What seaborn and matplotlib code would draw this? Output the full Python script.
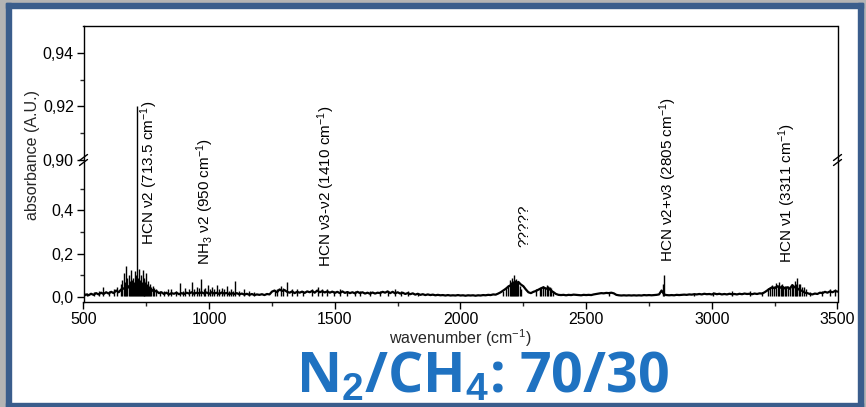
import numpy as np
import pandas as pd
import matplotlib
matplotlib.use("Agg")
import matplotlib.pyplot as plt
import seaborn as sns
from matplotlib.patches import Rectangle
from matplotlib.lines import Line2D
from matplotlib.ticker import FixedLocator, FuncFormatter

# spectrum, one value every 10 cm-1 from 500 to 3500
wavenumber = np.arange(500, 3501, 10)
absorbance = [
    0.004, 0.012, 0.008, 0.015, 0.010, 0.018, 0.012, 0.020, 0.014, 0.022,
    0.016, 0.024, 0.018, 0.030, 0.022, 0.035, 0.040, 0.032, 0.050, 0.045,
    0.055, 0.060, 0.048, 0.058, 0.040, 0.045, 0.030, 0.035, 0.025, 0.028,
    0.018, 0.022, 0.014, 0.020, 0.012, 0.018, 0.015, 0.020, 0.013, 0.018,
    0.014, 0.020, 0.016, 0.022, 0.015, 0.020, 0.017, 0.022, 0.016, 0.021,
    0.015, 0.022, 0.016, 0.020, 0.014, 0.021, 0.016, 0.019, 0.013, 0.018,
    0.014, 0.018, 0.012, 0.016, 0.011, 0.015, 0.010, 0.014, 0.009, 0.012,
    0.010, 0.013, 0.009, 0.014, 0.012, 0.025, 0.030, 0.022, 0.035, 0.028,
    0.032, 0.024, 0.020, 0.026, 0.018, 0.024, 0.020, 0.025, 0.019, 0.026,
    0.022, 0.028, 0.020, 0.030, 0.022, 0.027, 0.021, 0.026, 0.020, 0.025,
    0.019, 0.024, 0.018, 0.026, 0.019, 0.023, 0.018, 0.022, 0.017, 0.024,
    0.018, 0.022, 0.016, 0.020, 0.015, 0.021, 0.016, 0.020, 0.018, 0.024,
    0.020, 0.026, 0.018, 0.024, 0.017, 0.022, 0.016, 0.020, 0.014, 0.018,
    0.013, 0.017, 0.011, 0.015, 0.010, 0.013, 0.009, 0.012, 0.009, 0.011,
    0.008, 0.010, 0.008, 0.009, 0.007, 0.009, 0.007, 0.008, 0.007, 0.009,
    0.007, 0.008, 0.006, 0.008, 0.007, 0.008, 0.006, 0.008, 0.007, 0.009,
    0.008, 0.010, 0.009, 0.012, 0.011, 0.016, 0.022, 0.030, 0.038, 0.048,
    0.055, 0.065, 0.060, 0.070, 0.058, 0.050, 0.035, 0.022, 0.018, 0.024,
    0.028, 0.034, 0.040, 0.045, 0.038, 0.042, 0.030, 0.022, 0.014, 0.010,
    0.009, 0.010, 0.008, 0.010, 0.009, 0.011, 0.010, 0.009, 0.008, 0.010,
    0.009, 0.010, 0.009, 0.012, 0.014, 0.016, 0.018, 0.017, 0.019, 0.018,
    0.020, 0.017, 0.010, 0.008, 0.007, 0.008, 0.007, 0.008, 0.007, 0.008,
    0.007, 0.008, 0.007, 0.009, 0.008, 0.009, 0.008, 0.009, 0.010, 0.012,
    0.030, 0.012, 0.009, 0.008, 0.009, 0.008, 0.010, 0.009, 0.010, 0.011,
    0.010, 0.012, 0.011, 0.013, 0.012, 0.014, 0.012, 0.015, 0.013, 0.014,
    0.012, 0.016, 0.013, 0.015, 0.012, 0.014, 0.012, 0.015, 0.013, 0.014,
    0.012, 0.015, 0.013, 0.016, 0.014, 0.015, 0.013, 0.016, 0.014, 0.017,
    0.016, 0.022, 0.030, 0.038, 0.045, 0.040, 0.050, 0.042, 0.048, 0.040,
    0.045, 0.038, 0.055, 0.045, 0.040, 0.032, 0.028, 0.020, 0.018, 0.014,
    0.012, 0.016, 0.014, 0.020, 0.018, 0.024, 0.020, 0.026, 0.022, 0.028,
    0.025,
]

# sharp lines sticking out of the baseline
spike_pos = [515, 540, 560, 578, 600, 620, 635, 648, 655, 660, 665, 670, 675,
             680, 685, 690, 694, 697, 701, 705, 709, 713.5, 718, 722, 725, 728,
             732, 735, 739, 742, 746, 750, 754, 758, 762, 766, 770, 775, 782,
             790, 805, 820, 835, 850, 868, 884, 895, 905, 918, 932, 940, 950,
             958, 968, 978, 985, 995, 1003, 1012, 1020, 1031, 1040, 1050, 1060,
             1071, 1080, 1088, 1095, 1103, 1120, 1140, 1160, 1180, 1260, 1270,
             1285, 1295, 1310, 1330, 1350, 1375, 1410, 1433, 1450, 1470, 1495,
             1520, 1550, 1580, 1600, 1640, 1680, 1710, 1740, 1765, 1790, 1830,
             2170, 2180, 2188, 2195, 2200, 2205, 2210, 2213, 2218, 2222, 2226,
             2230, 2236, 2242, 2300, 2315, 2322, 2330, 2338, 2345, 2350, 2355,
             2362, 2370, 2590, 2805, 2808, 2930, 3005, 3080, 3150, 3200, 3225,
             3232, 3240, 3247, 3255, 3262, 3268, 3274, 3280, 3285, 3290, 3296,
             3303, 3310, 3318, 3324, 3330, 3335, 3339, 3345, 3350, 3357, 3365,
             3375, 3390, 3440, 3470, 3490]
spike_height = [0.02, 0.025, 0.03, 0.045, 0.03, 0.035, 0.045, 0.06, 0.08, 0.11,
                0.07, 0.145, 0.09, 0.10, 0.075, 0.125, 0.08, 0.09, 0.07, 0.12,
                0.10, 0.92, 0.09, 0.13, 0.08, 0.10, 0.07, 0.125, 0.08, 0.09,
                0.07, 0.11, 0.06, 0.075, 0.05, 0.06, 0.045, 0.05, 0.04, 0.035,
                0.03, 0.03, 0.035, 0.035, 0.03, 0.065, 0.03, 0.04, 0.035, 0.07,
                0.035, 0.045, 0.04, 0.085, 0.035, 0.04, 0.055, 0.035, 0.045,
                0.035, 0.055, 0.035, 0.04, 0.035, 0.05, 0.03, 0.035, 0.03,
                0.075, 0.03, 0.035, 0.03, 0.025, 0.03, 0.035, 0.05, 0.04, 0.07,
                0.035, 0.035, 0.03, 0.035, 0.045, 0.035, 0.035, 0.03, 0.035,
                0.03, 0.03, 0.03, 0.028, 0.03, 0.03, 0.035, 0.03, 0.03, 0.02,
                0.03, 0.04, 0.055, 0.08, 0.07, 0.09, 0.075, 0.10, 0.08, 0.085,
                0.07, 0.07, 0.05, 0.035, 0.035, 0.04, 0.045, 0.05, 0.045, 0.055,
                0.05, 0.045, 0.04, 0.03, 0.025, 0.06, 0.10, 0.02, 0.025, 0.03,
                0.028, 0.025, 0.04, 0.045, 0.055, 0.05, 0.065, 0.055, 0.07,
                0.055, 0.06, 0.05, 0.05, 0.045, 0.05, 0.045, 0.06, 0.05, 0.075,
                0.06, 0.09, 0.06, 0.06, 0.045, 0.045, 0.035, 0.025, 0.03, 0.035,
                0.035]

band_labels = ["HCN ν2 (713.5 cm$^{-1}$)", "NH$_3$ ν2 (950 cm$^{-1}$)",
               "HCN ν3-ν2 (1410 cm$^{-1}$)", "?????",
               "HCN ν2+ν3 (2805 cm$^{-1}$)", "HCN ν1 (3311 cm$^{-1}$)"]
band_x = [760, 985, 1465, 2256, 2826, 3299]
band_y = [0.24, 0.148, 0.139, 0.23, 0.16, 0.157]

df = pd.DataFrame({"wavenumber": wavenumber, "absorbance": absorbance})

sns.set_theme(style="white")
plt.rcParams['font.family'] = ['Liberation Sans', 'DejaVu Sans']
plt.rcParams['mathtext.fontset'] = 'custom'
plt.rcParams['mathtext.rm'] = 'Liberation Sans'
plt.rcParams['mathtext.it'] = 'Liberation Sans:italic'
plt.rcParams['mathtext.bf'] = 'Liberation Sans:bold'

W, H = 866, 407
fig = plt.figure(figsize=(W / 100, H / 100), dpi=100)

# frame of the slide
fig.patches.append(Rectangle((0, 0), 6 / W, 1, transform=fig.transFigure,
                             color="#b4b4b4", zorder=0))
fig.patches.append(Rectangle((0, 1 - 3 / H), 1, 3 / H, transform=fig.transFigure,
                             color="#b4b4b4", zorder=0))
fig.patches.append(Rectangle((863 / W, 0), 3 / W, 1, transform=fig.transFigure,
                             color="#b4b4b4", zorder=0))
blue = "#3a5d8c"
fig.patches.append(Rectangle((6 / W, 0), 5 / W, 1 - 3 / H, transform=fig.transFigure,
                             color=blue, zorder=1))
fig.patches.append(Rectangle((6 / W, 1 - 8 / H), 857 / W, 5 / H, transform=fig.transFigure,
                             color=blue, zorder=1))
fig.patches.append(Rectangle((6 / W, 0), 857 / W, 4 / H, transform=fig.transFigure,
                             color=blue, zorder=1))
fig.patches.append(Rectangle((858 / W, 0), 5 / W, 1 - 3 / H, transform=fig.transFigure,
                             color=blue, zorder=1))

left, right = 83.5 / W, 837.5 / W
y_bot, y_brk, y_top = 1 - 302 / H, 1 - 160 / H, 1 - 26 / H
ax_lo = fig.add_axes([left, y_bot, right - left, y_brk - y_bot])
ax_hi = fig.add_axes([left, y_brk, right - left, y_top - y_brk])

for ax in (ax_lo, ax_hi):
    sns.lineplot(data=df, x="wavenumber", y="absorbance", ax=ax, color="black",
                 linewidth=1.6, estimator=None, sort=False)
    ax.vlines(spike_pos, 0.005, spike_height, color="black", linewidth=1.0)
    ax.set_xlim(500, 3500)
    ax.set_xlabel("")
    ax.set_ylabel("")
    ax.set_facecolor("none")
    for s in ax.spines.values():
        s.set_color("black")
        s.set_linewidth(1.0)

comma = FuncFormatter(lambda v, p: f"{v:.{1 if v < 0.85 else 2}f}".replace(".", ","))

ax_lo.set_ylim(-0.023, 0.633)
ax_lo.spines["top"].set_visible(False)
ax_lo.yaxis.set_major_locator(FixedLocator([0.0, 0.2, 0.4]))
ax_lo.yaxis.set_minor_locator(FixedLocator([0.1, 0.3, 0.5]))
ax_lo.yaxis.set_major_formatter(comma)
ax_lo.xaxis.set_major_locator(FixedLocator([500, 1000, 1500, 2000, 2500, 3000, 3500]))
ax_lo.xaxis.set_minor_locator(FixedLocator([750, 1250, 1750, 2250, 2750, 3250]))

ax_hi.set_ylim(0.90, 0.95)
ax_hi.spines["bottom"].set_visible(False)
ax_hi.yaxis.set_major_locator(FixedLocator([0.90, 0.92, 0.94]))
ax_hi.yaxis.set_minor_locator(FixedLocator([0.91, 0.93]))
ax_hi.yaxis.set_major_formatter(comma)
ax_hi.set_xticks([])

for ax in (ax_lo, ax_hi):
    ax.tick_params(axis="both", which="major", direction="out", length=5, width=1,
                   labelsize=11.5, colors="black", left=True, bottom=(ax is ax_lo))
    ax.tick_params(axis="both", which="minor", direction="out", length=3, width=1,
                   left=True, bottom=(ax is ax_lo))
    ax.tick_params(axis="y", pad=2)
    ax.tick_params(axis="x", pad=2)

for lab, bx, by in zip(band_labels, band_x, band_y):
    ax_lo.text(bx, by, lab, rotation=90, ha="center", va="bottom", fontsize=11,
               color="black")

# axis break marks
for xp in (83.5, 837.5):
    for dy in (-2.5, 2.5):
        fig.lines.append(Line2D([(xp - 4) / W, (xp + 4) / W],
                                [1 - (160 + dy + 3) / H, 1 - (160 + dy - 3) / H],
                                transform=fig.transFigure, color="black", linewidth=1.0))

fig.text(33 / W, 1 - 155 / H, "absorbance (A.U.)", rotation=90, ha="center",
         va="center", fontsize=11.5)
fig.text(460 / W, 1 - 338 / H, "wavenumber (cm$^{-1}$)", ha="center", va="center",
         fontsize=11.5)

fig.text(482 / W, 1 - 392 / H, "N$_\\mathbf{2}$/CH$_\\mathbf{4}$: 70/30",
         ha="center", va="baseline", fontsize=40, fontweight="bold",
         color="#1f72c1", family=["Open Sans", "DejaVu Sans"])

fig.savefig("out.png", dpi=100)
